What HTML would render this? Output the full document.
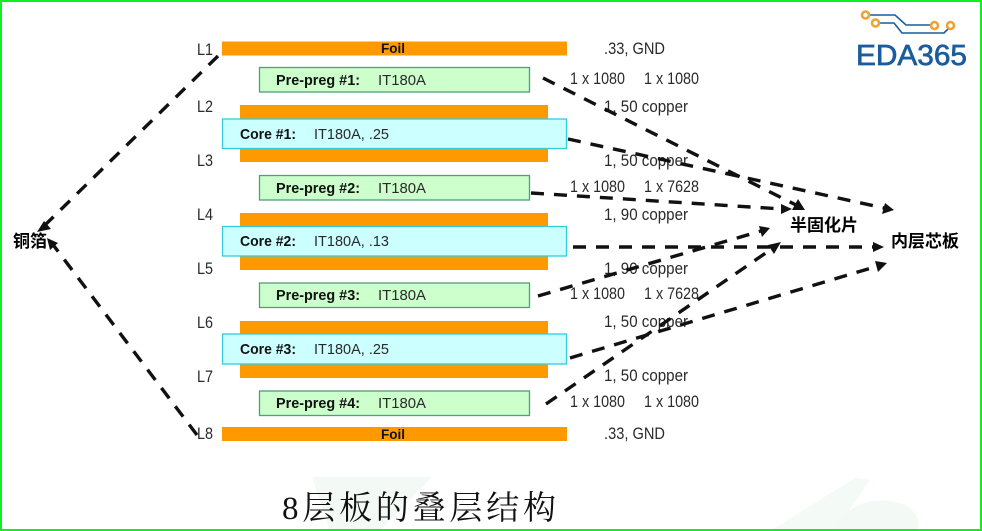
<!DOCTYPE html>
<html><head><meta charset="utf-8"><style>
html,body{margin:0;padding:0;background:#fff}
svg{display:block}
text{font-family:"Liberation Sans","Noto Sans CJK SC",sans-serif;fill:#2a2a2a;font-size:16.5px}
.m{font-size:15px}
.b{font-weight:bold;fill:#111;font-size:15px}
.z{font-weight:bold;fill:#000;font-size:17px;font-family:"Liberation Sans","Noto Sans CJK SC",sans-serif}
.o{fill:#ff9900}
.g{fill:#ccffcc;stroke:#4f9f78;stroke-width:1.3}
.c{fill:#ccffff;stroke:#33ccdd;stroke-width:1.3}
.d{stroke:#111;stroke-width:3.4;fill:none;stroke-dasharray:13 10}
.h{fill:#111}
</style></head><body>
<svg width="982" height="531" viewBox="0 0 982 531" xmlns="http://www.w3.org/2000/svg">
<rect width="982" height="531" fill="#fff"/>
<!-- watermark -->
<path d="M312 477H432L380 531H330Z" fill="#f3faf5"/>
<path d="M770 531L855 478L870 480L835 531Z" fill="#f4faf6"/>
<path d="M830 531C850 500 880 495 905 505C918 512 920 522 918 531Z" fill="#f3faf5"/>
<!-- copper -->
<rect class="o" x="240" y="105" width="308" height="57"/>
<rect class="o" x="240" y="213" width="308" height="57"/>
<rect class="o" x="240" y="321" width="308" height="57"/>
<rect class="o" x="222" y="41.5" width="345" height="14"/>
<rect class="o" x="222" y="427" width="345" height="14"/>
<!-- cores -->
<rect class="c" x="222.5" y="119" width="344" height="29.5"/>
<rect class="c" x="222.5" y="226.5" width="344" height="29.5"/>
<rect class="c" x="222.5" y="334" width="344" height="30"/>
<!-- prepreg -->
<rect class="g" x="259.5" y="67.5" width="270" height="24.5"/>
<rect class="g" x="259.5" y="175.5" width="270" height="24.5"/>
<rect class="g" x="259.5" y="283" width="270" height="24.5"/>
<rect class="g" x="259.5" y="391" width="270" height="24.5"/>
<!-- layer labels -->
<text x="197" y="55" textLength="16" lengthAdjust="spacingAndGlyphs">L1</text>
<text x="197" y="112" textLength="16" lengthAdjust="spacingAndGlyphs">L2</text>
<text x="197" y="166" textLength="16" lengthAdjust="spacingAndGlyphs">L3</text>
<text x="197" y="220" textLength="16" lengthAdjust="spacingAndGlyphs">L4</text>
<text x="197" y="274" textLength="16" lengthAdjust="spacingAndGlyphs">L5</text>
<text x="197" y="328" textLength="16" lengthAdjust="spacingAndGlyphs">L6</text>
<text x="197" y="382" textLength="16" lengthAdjust="spacingAndGlyphs">L7</text>
<text x="197" y="439" textLength="16" lengthAdjust="spacingAndGlyphs">L8</text>
<!-- inner labels -->
<text class="b" x="381" y="53" textLength="24" lengthAdjust="spacingAndGlyphs" style="font-size:14px">Foil</text>
<text class="b" x="381" y="439" textLength="24" lengthAdjust="spacingAndGlyphs" style="font-size:14px">Foil</text>
<text class="b" x="276" y="85" textLength="84" lengthAdjust="spacingAndGlyphs">Pre-preg #1:</text>
<text class="m" x="378" y="85" textLength="48" lengthAdjust="spacingAndGlyphs">IT180A</text>
<text class="b" x="276" y="193" textLength="84" lengthAdjust="spacingAndGlyphs">Pre-preg #2:</text>
<text class="m" x="378" y="193" textLength="48" lengthAdjust="spacingAndGlyphs">IT180A</text>
<text class="b" x="276" y="300" textLength="84" lengthAdjust="spacingAndGlyphs">Pre-preg #3:</text>
<text class="m" x="378" y="300" textLength="48" lengthAdjust="spacingAndGlyphs">IT180A</text>
<text class="b" x="276" y="408" textLength="84" lengthAdjust="spacingAndGlyphs">Pre-preg #4:</text>
<text class="m" x="378" y="408" textLength="48" lengthAdjust="spacingAndGlyphs">IT180A</text>
<text class="b" x="240" y="139" textLength="56" lengthAdjust="spacingAndGlyphs">Core #1:</text>
<text class="m" x="314" y="139" textLength="75" lengthAdjust="spacingAndGlyphs">IT180A, .25</text>
<text class="b" x="240" y="246" textLength="56" lengthAdjust="spacingAndGlyphs">Core #2:</text>
<text class="m" x="314" y="246" textLength="75" lengthAdjust="spacingAndGlyphs">IT180A, .13</text>
<text class="b" x="240" y="354" textLength="56" lengthAdjust="spacingAndGlyphs">Core #3:</text>
<text class="m" x="314" y="354" textLength="75" lengthAdjust="spacingAndGlyphs">IT180A, .25</text>
<!-- right labels -->
<text x="604" y="54" textLength="61" lengthAdjust="spacingAndGlyphs">.33, GND</text>
<text x="570" y="84" textLength="55" lengthAdjust="spacingAndGlyphs">1 x 1080</text>
<text x="644" y="84" textLength="55" lengthAdjust="spacingAndGlyphs">1 x 1080</text>
<text x="604" y="112" textLength="84" lengthAdjust="spacingAndGlyphs">1, 50 copper</text>
<text x="604" y="166" textLength="84" lengthAdjust="spacingAndGlyphs">1, 50 copper</text>
<text x="570" y="192" textLength="55" lengthAdjust="spacingAndGlyphs">1 x 1080</text>
<text x="644" y="192" textLength="55" lengthAdjust="spacingAndGlyphs">1 x 7628</text>
<text x="604" y="220" textLength="84" lengthAdjust="spacingAndGlyphs">1, 90 copper</text>
<text x="604" y="274" textLength="84" lengthAdjust="spacingAndGlyphs">1, 90 copper</text>
<text x="570" y="299" textLength="55" lengthAdjust="spacingAndGlyphs">1 x 1080</text>
<text x="644" y="299" textLength="55" lengthAdjust="spacingAndGlyphs">1 x 7628</text>
<text x="604" y="327" textLength="84" lengthAdjust="spacingAndGlyphs">1, 50 copper</text>
<text x="604" y="381" textLength="84" lengthAdjust="spacingAndGlyphs">1, 50 copper</text>
<text x="570" y="407" textLength="55" lengthAdjust="spacingAndGlyphs">1 x 1080</text>
<text x="644" y="407" textLength="55" lengthAdjust="spacingAndGlyphs">1 x 1080</text>
<text x="604" y="439" textLength="61" lengthAdjust="spacingAndGlyphs">.33, GND</text>
<!-- connectors -->
<path class="d" d="M218 56L44 226"/>
<path class="h" d="M37 232L44 221L51 229Z"/>
<path class="d" d="M197 435L54 246"/>
<path class="h" d="M47 238L58 243L50 250Z"/>
<path class="d" d="M543 78L796 205"/>
<path class="h" d="M805 210L792 210L798 199Z"/>
<path class="d" d="M568 139L884 208"/>
<path class="h" d="M894 210L882 214L885 203Z"/>
<path class="d" d="M531 193L782 209"/>
<path class="h" d="M792 209L781 214L781 204Z"/>
<path class="d" d="M573 247L875 247"/>
<path class="h" d="M884 247L873 252L873 242Z"/>
<path class="d" d="M538 296L761 231"/>
<path class="h" d="M770 228L762 237L759 226Z"/>
<path class="d" d="M546 404L773 248"/>
<path class="h" d="M781 242L774 254L768 245Z"/>
<path class="d" d="M570 358L878 266"/>
<path class="h" d="M887 263L878 272L875 261Z"/>
<!-- node labels -->
<text class="z" x="13" y="247">铜箔</text>
<text class="z" x="790" y="231">半固化片</text>
<text class="z" x="891" y="247">内层芯板</text>
<!-- title -->
<text x="282" y="519" textLength="274" lengthAdjust="spacing" style="font-family:'Liberation Serif','Noto Serif CJK SC',serif;font-size:33px;fill:#111">8层板的叠层结构</text>
<!-- logo -->
<g fill="none" stroke="#1a5c9e" stroke-width="1.6">
<path d="M870 15H895L906 25H930"/>
<path d="M880 23H894L902 33H944L950 27"/>
</g>
<g fill="#fff" stroke="#eda336" stroke-width="2.6">
<circle cx="865.5" cy="15" r="3.5"/>
<circle cx="875.5" cy="23" r="3.5"/>
<circle cx="934.5" cy="25.5" r="3.5"/>
<circle cx="950.5" cy="25.5" r="3.5"/>
</g>
<text x="856" y="65" textLength="111" lengthAdjust="spacingAndGlyphs" style="font-size:29px;fill:#1a5c9e;stroke:#1a5c9e;stroke-width:.7">EDA365</text>
<!-- border -->
<rect x="1" y="1" width="980" height="529" fill="none" stroke="#11ee22" stroke-width="2"/>
</svg>
</body></html>
